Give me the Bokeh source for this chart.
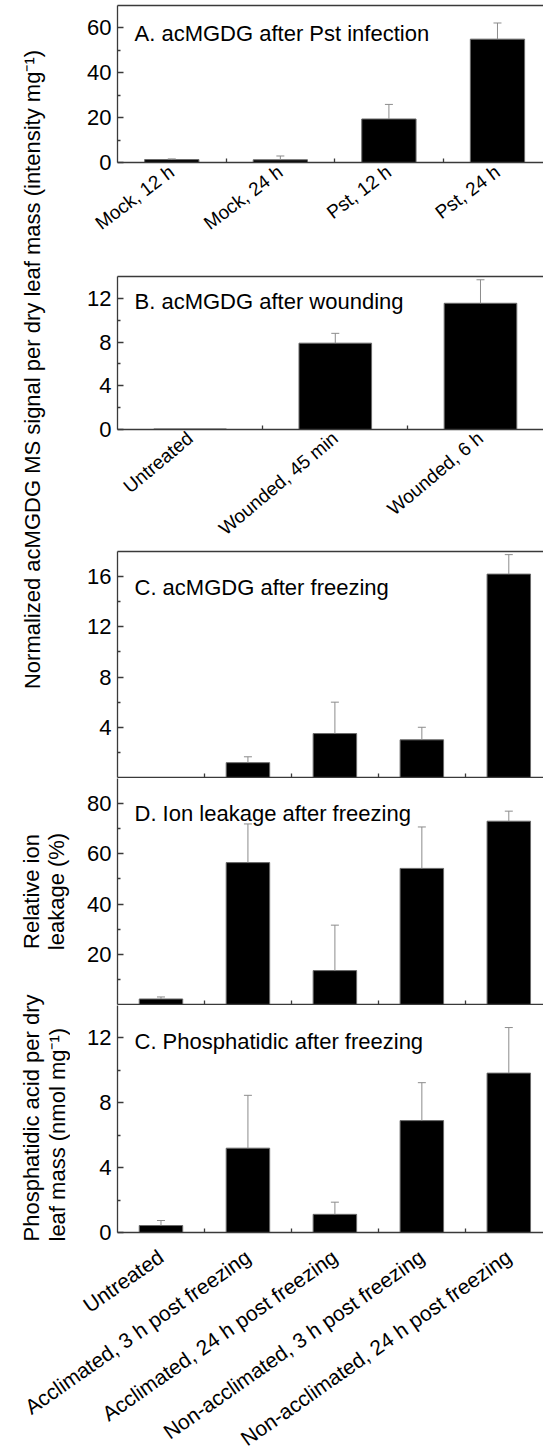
import math
from bokeh.plotting import figure
from bokeh.layouts import column, row
from bokeh.models import (ColumnDataSource, FixedTicker, LinearAxis, Label,
                          Whisker, TeeHead, Range1d)
from bokeh.embed import file_html
from bokeh.resources import INLINE

FONT = "Liberation Sans"

# ---------------- data ----------------
cats_a = ["Mock, 12 h", "Mock, 24 h", "Pst, 12 h", "Pst, 24 h"]
vals_a = [1.3, 1.2, 19.4, 55.0]
errs_a = [0.3, 1.7, 6.5, 7.2]

cats_b = ["Untreated", "Wounded, 45 min", "Wounded, 6 h"]
vals_b = [0.05, 7.9, 11.55]
errs_b = [0.0, 0.9, 2.15]

cats_f = ["Untreated", "Acclimated, 3 h post freezing",
          "Acclimated, 24 h post freezing",
          "Non-acclimated, 3 h post freezing",
          "Non-acclimated, 24 h post freezing"]
vals_c = [0.0, 1.18, 3.5, 3.0, 16.2]
errs_c = [0.0, 0.47, 2.5, 1.0, 1.55]
vals_d = [2.2, 56.5, 13.5, 54.2, 73.0]
errs_d = [0.8, 15.4, 18.1, 16.5, 4.0]
vals_e = [0.43, 5.2, 1.12, 6.9, 9.83]
errs_e = [0.31, 3.26, 0.75, 2.34, 2.81]

titles = ["A. acMGDG after Pst infection", "B. acMGDG after wounding",
          "C. acMGDG after freezing", "D. Ion leakage after freezing",
          "C. Phosphatidic after freezing"]

ylab_main = "Normalized acMGDG MS signal per dry leaf mass (intensity mg\u207b\u00b9)"
ylab_d = ["Relative ion", "leakage (%)"]
ylab_e = ["Phosphatidic acid per dry", "leaf mass (nmol mg\u207b\u00b9)"]

# ---------------- layout constants ----------------
W = 543
LW = 70            # label column width
PW = W - LW
FL = 117           # page x of the plot frames' left edge
AX = "#3a3a3a"


def style_xlabels(xa, xs, cats, size, angle, standoff):
    xa.major_label_overrides = {x: c for x, c in zip(xs, cats)}
    xa.major_label_orientation = math.radians(angle)
    xa.major_label_text_font = FONT
    xa.major_label_text_font_size = size
    xa.major_label_text_color = "black"
    xa.major_label_standoff = standoff


def panel(cats, vals, errs, y_max, y_major, y_minor, x_range, title, title_dy,
          height, b_top, b_bottom, labels=True, lab_size="17px",
          lab_angle=45, lab_standoff=6, top_line=False):
    n = len(cats)
    xs = list(range(1, n + 1))
    p = figure(width=PW, height=height, x_range=x_range,
               y_range=Range1d(0, y_max), output_backend="svg",
               toolbar_location=None, min_border_left=FL - LW,
               min_border_right=0, min_border_top=b_top,
               min_border_bottom=b_bottom)
    p.grid.visible = False
    p.outline_line_color = None

    xa = p.xaxis[0]
    xa.ticker = FixedTicker(ticks=xs if labels else [],
                            minor_ticks=[i + 0.5 for i in range(1, n)])
    xa.major_tick_in = 0
    xa.major_tick_out = 0
    xa.minor_tick_in = 4
    xa.minor_tick_out = 0
    xa.axis_line_color = AX
    xa.axis_line_width = 1.3
    xa.minor_tick_line_color = AX
    xa.minor_tick_line_width = 1.3
    if labels:
        style_xlabels(xa, xs, cats, lab_size, lab_angle, lab_standoff)
    else:
        xa.major_label_text_font_size = "0px"
        xa.major_label_standoff = 0

    ya = p.yaxis[0]
    ya.ticker = FixedTicker(ticks=y_major, minor_ticks=y_minor)
    ya.major_tick_in = 6
    ya.major_tick_out = 0
    ya.minor_tick_in = 3
    ya.minor_tick_out = 0
    ya.axis_line_color = AX
    ya.axis_line_width = 1.3
    ya.major_tick_line_color = AX
    ya.minor_tick_line_color = AX
    ya.major_tick_line_width = 1.3
    ya.minor_tick_line_width = 1.3
    ya.major_label_text_font = FONT
    ya.major_label_text_font_size = "22px"
    ya.major_label_text_color = "black"
    ya.major_label_standoff = 6

    if top_line:
        ta = LinearAxis(ticker=FixedTicker(ticks=[]), major_tick_in=0,
                        major_tick_out=0, minor_tick_in=0, minor_tick_out=0,
                        major_label_standoff=0, major_label_text_font_size="0px",
                        axis_line_color=AX, axis_line_width=1.3)
        p.add_layout(ta, "above")

    src = ColumnDataSource(dict(x=xs, top=vals))
    p.vbar(x="x", top="top", width=0.5, source=src, fill_color="black",
           line_color="#6a6a6a", line_width=1)

    ex = [x for x, e in zip(xs, errs) if e > 0]
    elo = [v for v, e in zip(vals, errs) if e > 0]
    ehi = [v + e for v, e in zip(vals, errs) if e > 0]
    esrc = ColumnDataSource(dict(x=ex, lo=elo, hi=ehi))
    w = Whisker(base="x", lower="lo", upper="hi", source=esrc,
                dimension="height", line_color="#8c8c8c", line_width=1,
                upper_head=TeeHead(size=8, line_color="#8c8c8c", line_width=1),
                lower_head=None, level="overlay")
    p.add_layout(w)

    frame_h = height - b_top - b_bottom
    p.add_layout(Label(x=17, y=frame_h - title_dy, x_units="screen",
                       y_units="screen", text=title, text_font=FONT,
                       text_font_size="22px", text_color="black",
                       text_baseline="alphabetic", text_align="left"))
    return p


def label_column(height, lines):
    f = figure(width=LW, height=height, x_range=Range1d(0, LW),
               y_range=Range1d(0, height), output_backend="svg",
               toolbar_location=None, min_border=0,
               x_axis_location=None, y_axis_location=None)
    f.grid.visible = False
    f.outline_line_color = None
    for x, y, text, align in lines:
        f.add_layout(Label(x=x, y=y, text=text, angle=math.pi / 2,
                           text_font=FONT, text_font_size="22px",
                           text_color="black", text_align=align,
                           text_baseline="alphabetic"))
    return f


xr_f = Range1d(0.5, 5.399)

pA = panel(cats_a, vals_a, errs_a, 70, [0, 20, 40, 60], [10, 30, 50],
           Range1d(0.5, 4.424), titles[0], 28, 270, 5, 108, labels=True,
           lab_size="19px", lab_angle=37, lab_standoff=7, top_line=True)
pB = panel(cats_b, vals_b, errs_b, 14, [0, 4, 8, 12], [2, 6, 10],
           Range1d(0.5, 3.434), titles[1], 29, 280, 6, 117, labels=True,
           lab_size="19px", lab_angle=40, lab_standoff=6, top_line=True)
pC = panel(cats_f, vals_c, errs_c, 18, [4, 8, 12, 16], [2, 6, 10, 14], xr_f,
           titles[2], 36, 228, 1, 1, labels=False, top_line=True)
pD = panel(cats_f, vals_d, errs_d, 90, [20, 40, 60, 80], [10, 30, 50, 70], xr_f,
           titles[3], 35, 227, 0, 1, labels=False)
E_H = 242
pE = panel(cats_f, vals_e, errs_e, 14, [0, 4, 8, 12], [2, 6, 10], xr_f,
           titles[4], 36, E_H, 0, 15, labels=False)

# category labels of the bottom panel: a full-width axis strip sharing pE's x range
TOP_H = 270 + 280 + 228
EX_H = 1452 - TOP_H - 227 - E_H
pEx = figure(width=W, height=EX_H, x_range=xr_f, y_range=Range1d(0, 1),
             output_backend="svg", toolbar_location=None, min_border_left=FL,
             min_border_right=0, min_border_top=0, min_border_bottom=EX_H - 1,
             y_axis_location=None)
pEx.grid.visible = False
pEx.outline_line_color = None
xe = pEx.xaxis[0]
xs_f = list(range(1, len(cats_f) + 1))
xe.ticker = FixedTicker(ticks=xs_f)
xe.axis_line_color = None
xe.major_tick_line_color = None
xe.minor_tick_line_color = None
style_xlabels(xe, xs_f, cats_f, "21px", 35, 1)

lf = label_column(TOP_H, [(32, TOP_H - 369, ylab_main, "center")])
DE_H = 227 + E_H
lfDE = label_column(DE_H, [
    (31, DE_H - (891 - TOP_H), ylab_d[0], "center"),
    (56, DE_H - (891 - TOP_H), ylab_d[1], "center"),
    (31, DE_H - (1241 - TOP_H), ylab_e[0], "left"),
    (57, DE_H - (1241 - TOP_H), ylab_e[1], "left"),
])

layout = column(row(lf, column(pA, pB, pC)), row(lfDE, column(pD, pE)), pEx)

open("out.html", "w").write(file_html(layout, INLINE))
